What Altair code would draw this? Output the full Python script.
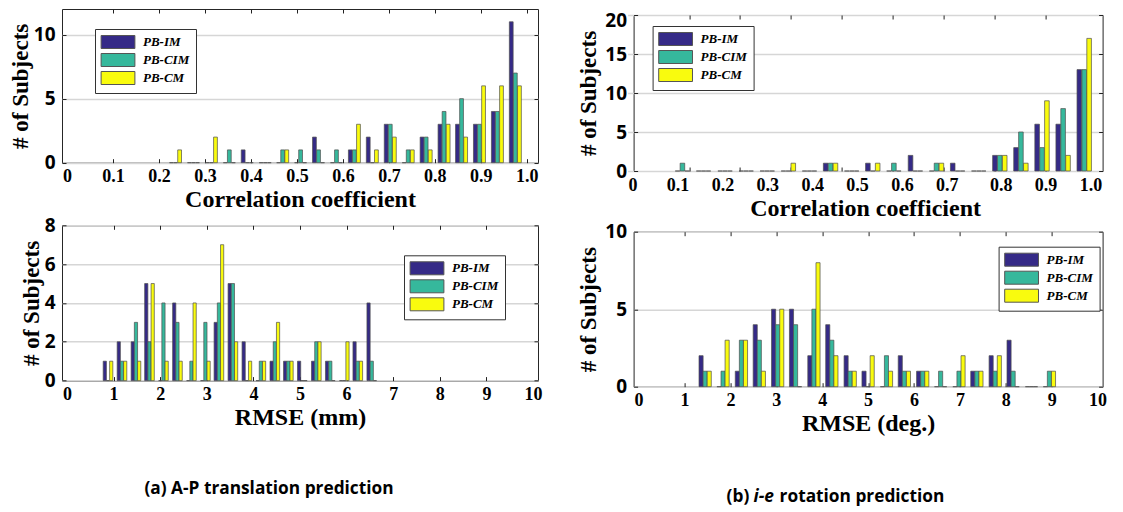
import altair as alt
import pandas as pd

series = ["PB-IM", "PB-CIM", "PB-CM"]
colors = ["#352A87", "#36B89C", "#F9FB0E"]

# (a) top: correlation coefficient histogram
a_corr_bins = [0.236, 0.275, 0.314, 0.353, 0.392, 0.431, 0.469, 0.508, 0.547, 0.586,
               0.625, 0.664, 0.703, 0.742, 0.781, 0.820, 0.858, 0.897, 0.936, 0.975]
a_corr_im = [0, 0, 0, 0, 1, 0, 0, 0, 2, 0, 1, 2, 3, 0, 2, 3, 3, 3, 4, 11]
a_corr_cim = [0, 0, 0, 1, 0, 0, 1, 1, 1, 1, 1, 0, 3, 1, 2, 4, 5, 3, 4, 7]
a_corr_cm = [1, 0, 2, 0, 0, 0, 1, 0, 0, 0, 3, 1, 2, 1, 1, 3, 2, 6, 6, 6]

# (b) top: correlation coefficient histogram
b_corr_bins = [0.111, 0.158, 0.206, 0.253, 0.300, 0.347, 0.394, 0.441, 0.488, 0.535,
               0.582, 0.630, 0.677, 0.724, 0.771, 0.818, 0.865, 0.912, 0.959, 1.006]
b_corr_im = [0, 0, 0, 0, 0, 0, 0, 1, 0, 1, 0, 2, 0, 1, 0, 2, 3, 6, 6, 13]
b_corr_cim = [1, 0, 0, 0, 0, 0, 0, 1, 0, 0, 1, 0, 1, 0, 0, 2, 5, 3, 8, 13]
b_corr_cm = [0, 0, 0, 0, 0, 1, 0, 1, 0, 1, 0, 0, 1, 0, 0, 2, 1, 9, 2, 17]

# (a) bottom: RMSE (mm)
a_rmse_bins = [0.88, 1.18, 1.48, 1.77, 2.07, 2.37, 2.67, 2.97, 3.26, 3.56,
               3.86, 4.16, 4.46, 4.75, 5.05, 5.35, 5.65, 5.95, 6.24, 6.54]
a_rmse_im = [1, 2, 2, 5, 0, 4, 0, 0, 3, 5, 2, 0, 1, 1, 1, 1, 1, 0, 2, 4]
a_rmse_cim = [0, 1, 3, 2, 4, 3, 1, 3, 4, 5, 0, 1, 2, 1, 0, 2, 1, 0, 1, 1]
a_rmse_cm = [1, 1, 1, 5, 1, 1, 4, 1, 7, 2, 1, 1, 3, 1, 0, 2, 0, 2, 1, 0]

# (b) bottom: RMSE (deg.)
b_rmse_bins = [1.45, 1.84, 2.24, 2.63, 3.03, 3.42, 3.82, 4.21, 4.61, 5.00,
               5.40, 5.79, 6.19, 6.58, 6.98, 7.37, 7.77, 8.16, 8.56, 8.95]
b_rmse_im = [2, 0, 1, 4, 5, 5, 2, 4, 2, 1, 0, 2, 1, 0, 0, 1, 2, 3, 0, 0]
b_rmse_cim = [1, 1, 3, 3, 4, 4, 5, 3, 1, 0, 2, 1, 1, 1, 1, 1, 1, 1, 0, 1]
b_rmse_cm = [1, 3, 3, 1, 5, 0, 8, 2, 1, 2, 1, 1, 1, 0, 2, 1, 2, 0, 0, 1]

corr_label_values = [0, 0.1, 0.2, 0.3, 0.4, 0.5, 0.6, 0.7, 0.8, 0.9, 1.0]
b_corr_label_values = [0, 0.1, 0.2, 0.3, 0.4, 0.5, 0.6, 0.7, 0.82, 0.92, 1.02]
b_corr_tick_values = [0.126, 0.239, 0.353, 0.466, 0.579, 0.693, 0.806, 0.919]
rmse_label_values = [0, 1, 2, 3, 4, 5, 6, 7, 8, 9, 10]
rmse_tick_values = [1, 2, 3, 4, 5, 6, 7, 8, 9]

caption_a = "(a) A-P translation prediction"
caption_b_parts = ["(b)", "i-e", "rotation prediction"]

SERIF = "Liberation Serif"
SANS = "Open Sans"


def make_df(bins, im, cim, cm):
    rows = []
    for k, vals in enumerate([im, cim, cm]):
        for c, v in zip(bins, vals):
            rows.append({"center": c, "series": series[k], "k": k, "count": v})
    return pd.DataFrame(rows)


def panel(df, off, bw, w, h, xdom, ydom, xlab_vals, xlab_expr, xtick_vals,
          y_vals, xtitle, leg_x, leg_y, ytitle_pad, y_label_offset=0, extra=(), xrange=None):
    if xrange is None:
        xs = alt.Scale(domain=xdom, nice=False, zero=False)
    else:
        xs = alt.Scale(domain=xdom, range=xrange, nice=False, zero=False)
    ys = alt.Scale(domain=ydom, nice=False, zero=True)
    base = alt.Chart(df).transform_calculate(pos=f"datum.center + (datum.k - 1) * {off}")
    legend = alt.Legend(
        title=None, orient="none", legendX=leg_x, legendY=leg_y, direction="vertical",
        fillColor="white", strokeColor="#333333", padding=6, rowPadding=0,
        symbolType="M-2.6,-1H2.6V1H-2.6Z", symbolSize=169,
        symbolStrokeColor="#555555", symbolStrokeWidth=1, symbolOpacity=1,
        symbolOffset=10, labelOffset=18,
        labelFont=SERIF, labelFontStyle="italic", labelFontWeight="bold",
        labelFontSize=13, labelColor="black",
    )
    bars = base.mark_bar(size=bw, stroke="#4d4d4d", strokeWidth=0.7, opacity=1).encode(
        x=alt.X("pos:Q", scale=xs, axis=alt.Axis(
            values=xlab_vals, labelExpr=xlab_expr, ticks=False, domain=False, grid=False,
            title=xtitle, labelFont=SERIF, labelFontWeight="bold", labelFontSize=18,
            labelColor="black", labelPadding=5, titleFont=SERIF, titleFontWeight="bold",
            titleFontSize=24, titleColor="black", titlePadding=2)),
        y=alt.Y("count:Q", scale=ys, axis=alt.Axis(
            values=y_vals, ticks=False, domain=False, grid=True, gridColor="#d6d6d6",
            gridWidth=1.5, title="# of Subjects", labelFont=SANS, labelFontWeight="bold",
            labelFontSize=19, labelColor="black", labelPadding=7,
            labelOffset={"condition": {"test": f"datum.value == {ydom[1]}", "value": y_label_offset}, "value": 0},
            titleFont=SERIF, titleFontWeight="bold", titleFontSize=23, titleColor="black",
            titlePadding=ytitle_pad)),
        color=alt.Color("series:N", scale=alt.Scale(domain=series, range=colors), legend=legend),
    )

    def tick_axis(orient, offset, vals):
        return alt.Axis(orient=orient, offset=offset, values=vals, labels=False, domain=False,
                        grid=False, ticks=True, tickSize=4, tickColor="#222222", tickWidth=1,
                        title=None)

    t1 = base.mark_point(opacity=0, size=1).encode(
        x=alt.X("pos:Q", scale=xs, axis=tick_axis("top", -h, xtick_vals)),
        y=alt.Y("count:Q", scale=ys, axis=tick_axis("right", -w, y_vals)),
    )
    t2 = base.mark_point(opacity=0, size=1).encode(
        x=alt.X("pos:Q", scale=xs, axis=tick_axis("bottom", -h, xtick_vals)),
        y=alt.Y("count:Q", scale=ys, axis=tick_axis("left", -w, y_vals)),
    )
    layers = [bars, t1, t2] + list(extra)
    return alt.layer(*layers).resolve_axis(x="independent", y="independent").properties(
        width=w, height=h)


corr_expr = "datum.value == 0 ? '0' : format(datum.value, '.1f')"
b_corr_expr = ("datum.value == 0 ? '0' : (datum.value > 0.75 ? format(datum.value - 0.02, '.1f')"
               " : format(datum.value, '.1f'))")
rmse_expr = "format(datum.value, 'd')"

TL = panel(make_df(a_corr_bins, a_corr_im, a_corr_cim, a_corr_cm), 0.0089, 3.8, 476, 153.7,
           [0, 1.0134], [0, 12], corr_label_values, corr_expr, corr_label_values[1:],
           [0, 5, 10], "Correlation coefficient", 33, 20, 1)

TR = panel(make_df(b_corr_bins, b_corr_im, b_corr_cim, b_corr_cm), 0.0109, 4.6, 469, 156,
           [0, 1.0358], [0, 20], b_corr_label_values, b_corr_expr, b_corr_tick_values,
           [0, 5, 10, 15, 20], "Correlation coefficient", 19, 11, 4, y_label_offset=5,
           xrange=[-6, 469])

cap_a = alt.Chart(pd.DataFrame({"t": [caption_a]})).mark_text(
    font=SANS, fontWeight="bold", fontSize=17.3, align="center", baseline="middle", color="black"
).encode(text="t:N", x=alt.value(207), y=alt.value(264))

BL = panel(make_df(a_rmse_bins, a_rmse_im, a_rmse_cim, a_rmse_cm), 0.069, 3.2, 476, 155.3,
           [0, 10], [0, 8], rmse_label_values, rmse_expr, rmse_tick_values,
           [0, 2, 4, 6, 8], "RMSE (mm)", 342, 30, 1, extra=[cap_a])

cap_b1 = alt.Chart(pd.DataFrame({"t": [caption_b_parts[0]]})).mark_text(
    font=SANS, fontWeight="bold", fontSize=17.3, align="left", baseline="middle", color="black"
).encode(text="t:N", x=alt.value(93), y=alt.value(265))
cap_b2 = alt.Chart(pd.DataFrame({"t": [caption_b_parts[1]]})).mark_text(
    font=SANS, fontWeight="bold", fontStyle="italic", fontSize=17.3, align="left",
    baseline="middle", color="black"
).encode(text="t:N", x=alt.value(120), y=alt.value(265))
cap_b3 = alt.Chart(pd.DataFrame({"t": [caption_b_parts[2]]})).mark_text(
    font=SANS, fontWeight="bold", fontSize=17.3, align="left", baseline="middle", color="black"
).encode(text="t:N", x=alt.value(146), y=alt.value(265))

BR = panel(make_df(b_rmse_bins, b_rmse_im, b_rmse_cim, b_rmse_cm), 0.089, 4.1, 469, 155,
           [0, 10], [0, 10], rmse_label_values, rmse_expr, rmse_tick_values,
           [0, 5, 10], "RMSE (deg.)", 365, 15, 4, extra=[cap_b1, cap_b2, cap_b3])

spacer = alt.Chart(pd.DataFrame({"v": [0]})).mark_rect(opacity=0).encode(
    x=alt.value(10), x2=alt.value(11), y=alt.value(0), y2=alt.value(1)
).properties(width=469, height=1, view=alt.ViewBackground(stroke="transparent"))

left_col = alt.vconcat(TL, BL, spacing=62.3, bounds="flush").resolve_scale(
    color="independent").resolve_legend(color="independent")
right_inner = alt.vconcat(TR, BR, spacing=60.7, bounds="flush").resolve_scale(
    color="independent").resolve_legend(color="independent")
right_col = alt.vconcat(spacer, right_inner, spacing=5, bounds="flush").resolve_scale(
    color="independent").resolve_legend(color="independent")

chart = alt.hconcat(left_col, right_col, spacing=33.6).resolve_scale(
    color="independent").resolve_legend(color="independent").properties(
    padding={"left": 0, "top": 0, "right": 5, "bottom": 5},
    background="white",
).configure_view(stroke="#262626", strokeWidth=1)

chart.save("out.html", embed_options={"renderer": "svg", "actions": False})
